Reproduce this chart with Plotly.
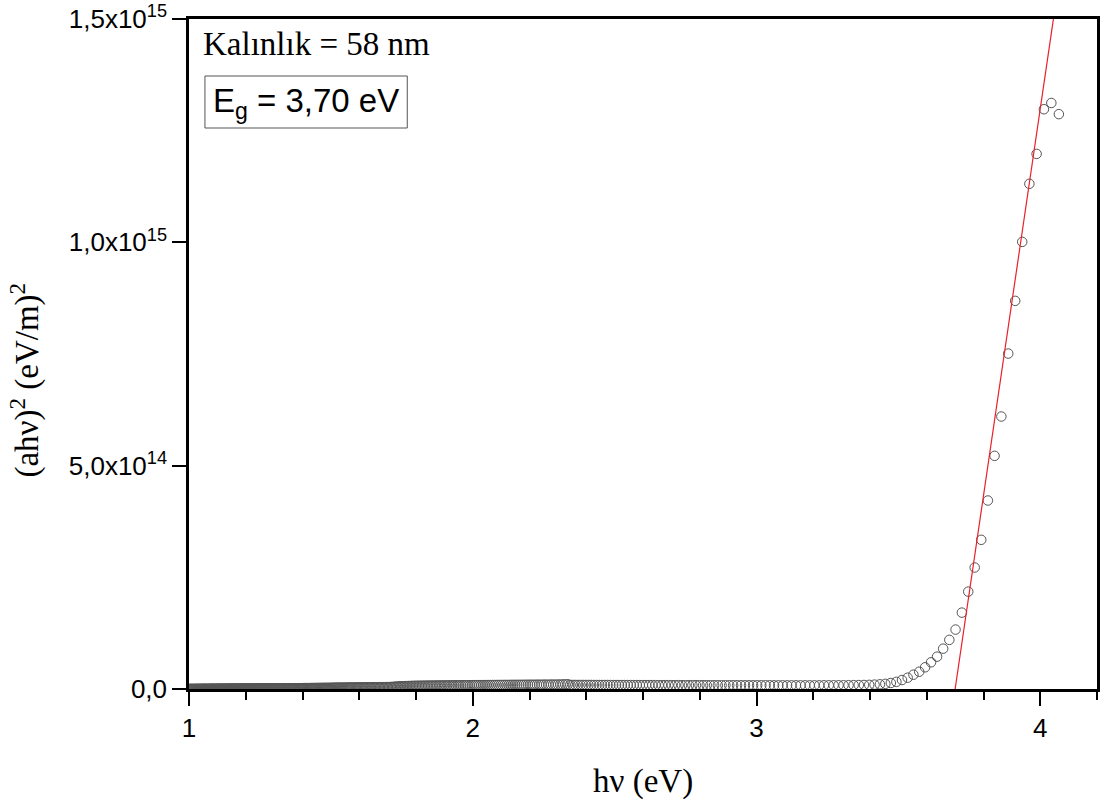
import numpy as np
import plotly.graph_objects as go

# Photon energy grid: spectrometer sampled every 2 nm from 1239 nm down to 305 nm
wavelength_nm = np.arange(1239, 304, -2)
photon_energy_ev = 1240.0 / wavelength_nm

# (ahv)^2 readings in units of 1e13 (eV/m)^2, in order of increasing photon energy
ahv2_1e13 = [
    # 1.0 - 1.1 eV
    0.00, 0.00, 0.00, 0.00, 0.00, 0.00, 0.00, 0.00, 0.00, 0.00,
    0.00, 0.01, 0.00, 0.01, 0.01, 0.00, 0.01, 0.01, 0.01, 0.01,
    0.01, 0.01, 0.01, 0.01, 0.01, 0.01, 0.02, 0.01, 0.02, 0.02,
    0.02, 0.02, 0.02, 0.02, 0.02, 0.02, 0.02, 0.02, 0.02, 0.02,
    0.02, 0.03, 0.02, 0.03, 0.03, 0.03, 0.03, 0.03, 0.03, 0.03,
    0.03, 0.03, 0.03, 0.03, 0.03, 0.03, 0.03,
    # 1.1 - 1.2 eV
    0.04, 0.04, 0.04, 0.04, 0.04, 0.04, 0.04, 0.04, 0.05, 0.04,
    0.05, 0.05, 0.05, 0.05, 0.05, 0.05, 0.05, 0.05, 0.06, 0.05,
    0.06, 0.06, 0.06, 0.06, 0.06, 0.06, 0.06, 0.06, 0.07, 0.06,
    0.07, 0.07, 0.07, 0.07, 0.07, 0.07, 0.07, 0.07, 0.08, 0.07,
    0.08, 0.08, 0.08, 0.08, 0.08, 0.08,
    # 1.2 - 1.3 eV
    0.08, 0.09, 0.08, 0.09, 0.09, 0.09, 0.09, 0.09, 0.09, 0.09,
    0.10, 0.09, 0.10, 0.10, 0.10, 0.10, 0.10, 0.10, 0.10, 0.11,
    0.10, 0.11, 0.11, 0.11, 0.11, 0.11, 0.11, 0.11, 0.11, 0.11,
    0.12, 0.11, 0.12, 0.12, 0.12, 0.12, 0.12, 0.12, 0.12, 0.12,
    # 1.3 - 1.4 eV
    0.13, 0.13, 0.13, 0.13, 0.13, 0.13, 0.14, 0.13, 0.14, 0.14,
    0.14, 0.14, 0.15, 0.14, 0.15, 0.15, 0.15, 0.15, 0.16, 0.15,
    0.16, 0.16, 0.16, 0.16, 0.17, 0.16, 0.17, 0.17, 0.17, 0.17,
    0.18, 0.17, 0.18, 0.18,
    # 1.4 - 1.5 eV
    0.19, 0.19, 0.19, 0.19, 0.20, 0.19, 0.20, 0.20, 0.20, 0.21,
    0.21, 0.21, 0.21, 0.22, 0.22, 0.22, 0.22, 0.23, 0.22, 0.23,
    0.23, 0.23, 0.24, 0.24, 0.24, 0.24, 0.25, 0.24, 0.25, 0.25,
    # 1.5 - 1.6 eV
    0.26, 0.26, 0.26, 0.27, 0.27, 0.27, 0.28, 0.28, 0.28, 0.28,
    0.29, 0.29, 0.29, 0.30, 0.30, 0.30, 0.31, 0.31, 0.31, 0.32,
    0.32, 0.32, 0.32, 0.33, 0.33, 0.33,
    # 1.6 - 1.7 eV
    0.34, 0.34, 0.35, 0.35, 0.35, 0.36, 0.36, 0.36, 0.37, 0.37,
    0.38, 0.38, 0.38, 0.39, 0.39, 0.40, 0.40, 0.40, 0.41, 0.41,
    0.41, 0.42, 0.42,
    # 1.7 - 1.8 eV
    0.43, 0.44, 0.45, 0.47, 0.49, 0.51, 0.53, 0.55, 0.57, 0.59,
    0.61, 0.62, 0.64, 0.65, 0.66, 0.67, 0.68, 0.69, 0.70, 0.70,
    # 1.8 - 2.0 eV
    0.71, 0.71, 0.72, 0.72, 0.73, 0.73, 0.74, 0.74, 0.75, 0.75,
    0.76, 0.76, 0.77, 0.77, 0.78, 0.78, 0.78, 0.79, 0.79, 0.80,
    0.80, 0.80, 0.81, 0.81, 0.82, 0.82, 0.82, 0.83, 0.83, 0.83,
    0.84, 0.84, 0.84, 0.85,
    # 2.0 - 2.3 eV
    0.85, 0.86, 0.86, 0.86, 0.87, 0.87, 0.87, 0.88, 0.88, 0.88,
    0.89, 0.89, 0.89, 0.90, 0.90, 0.90, 0.91, 0.91, 0.91, 0.92,
    0.92, 0.92, 0.93, 0.93, 0.93, 0.94, 0.94, 0.94, 0.95, 0.95,
    0.95, 0.96, 0.96, 0.96, 0.97, 0.97, 0.97, 0.98, 0.98, 0.98,
    0.99,
    # 2.3 - 2.33 eV
    1.00, 1.02, 1.04, 1.05,
    # 2.33 - 3.0 eV
    0.91, 0.91, 0.90, 0.90, 0.90, 0.90, 0.90, 0.90, 0.90, 0.89,
    0.89, 0.89, 0.89, 0.89, 0.89, 0.89, 0.88, 0.88, 0.88, 0.88,
    0.88, 0.88, 0.88, 0.87, 0.87, 0.87, 0.87, 0.87, 0.87, 0.87,
    0.86, 0.86, 0.86, 0.86, 0.86, 0.86, 0.86, 0.86, 0.85, 0.85,
    0.85, 0.85, 0.85, 0.85, 0.85, 0.85, 0.84, 0.84, 0.84, 0.84,
    0.84, 0.84, 0.84, 0.84, 0.84, 0.83, 0.83, 0.83, 0.83,
    # 3.0 - 3.37 eV
    0.83, 0.83, 0.83, 0.82, 0.82, 0.82, 0.82, 0.82, 0.82, 0.82,
    0.82, 0.82, 0.82, 0.82, 0.83, 0.83, 0.83, 0.84, 0.84, 0.85,
    0.86, 0.88,
    # absorption edge, 3.37 - 4.07 eV
    0.90, 0.93, 0.98, 1.05, 1.15, 1.35, 1.60, 2.01, 2.53, 3.20,
    3.87, 4.86, 5.98, 7.24, 9.03, 11.0, 13.3, 17.1, 21.8, 27.2,
    33.4, 42.2, 52.2, 61.0, 75.1, 86.9, 100.1, 113.1, 119.8, 129.8,
    131.2, 128.7,
]
ahv2 = np.array(ahv2_1e13) * 1e13

# Linear extrapolation of the edge: crosses zero at the band gap
band_gap_ev = 3.70
fit_slope = 4.33e15          # (eV/m)^2 per eV
fit_x = [band_gap_ev, 4.06]
fit_y = [fit_slope * (x - band_gap_ev) for x in fit_x]

y_tickvals = [0, 5e14, 1e15, 1.5e15]
y_ticktext = ["0,0", "5,0x10<sup>14</sup>", "1,0x10<sup>15</sup>", "1,5x10<sup>15</sup>"]
x_tickvals = [1, 2, 3, 4]

SANS = "Liberation Sans, Arial"
SERIF = "Liberation Serif, Times New Roman"

# pixel helpers for placing layout text relative to the plotting area
PLOT_L, PLOT_W, PLOT_B, PLOT_H = 189, 911, 689, 670
def px_x(px):
    return (px - PLOT_L) / PLOT_W
def px_y(py):
    return (PLOT_B - py) / PLOT_H

fig = go.Figure()
fig.add_trace(go.Scatter(
    x=photon_energy_ev, y=ahv2, mode="markers",
    marker=dict(symbol="circle-open", size=9.5, color="#555555", line=dict(width=1)),
    showlegend=False, hoverinfo="x+y",
))
fig.add_trace(go.Scatter(
    x=fit_x, y=fit_y, mode="lines",
    line=dict(color="#e8202a", width=1.2),
    showlegend=False,
))

axis_common = dict(
    showline=True, linecolor="black", linewidth=2.5, mirror=True,
    showgrid=False, zeroline=False,
    ticks="outside", tickcolor="black", tickwidth=2, ticklen=14,
    tickfont=dict(family=SANS, size=26, color="black"),
)

fig.update_layout(
    width=1101, height=803,
    margin=dict(l=189, r=1, t=19, b=114),
    paper_bgcolor="white", plot_bgcolor="white",
    xaxis=dict(
        range=[1, 4.2], tickmode="array", tickvals=x_tickvals,
        minor=dict(dtick=0.2, ticks="outside", ticklen=8, tickwidth=2, tickcolor="black"),
        **axis_common,
    ),
    yaxis=dict(
        range=[0, 1.5e15], tickmode="array", tickvals=y_tickvals, ticktext=y_ticktext,
        **axis_common,
    ),
    shapes=[
        # frame around the band-gap label
        dict(type="rect", xref="paper", yref="paper",
             x0=px_x(205), x1=px_x(408), y0=px_y(128), y1=px_y(76),
             line=dict(color="#555555", width=1), fillcolor="white", layer="above"),
    ],
    annotations=[
        dict(text="hν (eV)", xref="paper", yref="paper", x=px_x(644), y=px_y(781),
             showarrow=False, xanchor="center", yanchor="middle",
             font=dict(family=SERIF, size=33, color="black")),
        dict(text="(ahν)<sup>2</sup> (eV/m)<sup>2</sup>", xref="paper", yref="paper",
             x=px_x(24), y=px_y(380), textangle=-90,
             showarrow=False, xanchor="center", yanchor="middle",
             font=dict(family=SERIF, size=33, color="black")),
        dict(text="Kalınlık = 58 nm", xref="paper", yref="paper",
             x=px_x(201), y=px_y(44),
             showarrow=False, xanchor="left", yanchor="middle",
             font=dict(family=SERIF, size=33, color="black")),
        dict(text="E<sub>g</sub> = 3,70 eV", xref="paper", yref="paper",
             x=px_x(306.5), y=px_y(103),
             showarrow=False, xanchor="center", yanchor="middle",
             font=dict(family=SANS, size=33, color="black")),
    ],
)

fig.write_html("out.html")
